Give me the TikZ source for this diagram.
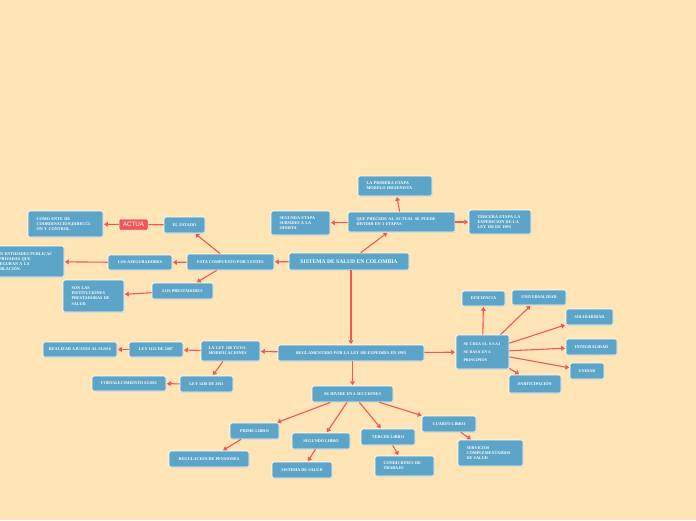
\documentclass[tikz,border=0pt]{standalone}
\usepackage{fontspec}
\setmainfont{Liberation Serif}
\newfontfamily\actuafont{Liberation Sans}
\usetikzlibrary{shadows,arrows.meta}
\definecolor{bg}{RGB}{255,228,181}
\definecolor{boxblue}{RGB}{92,164,200}
\definecolor{arr}{RGB}{240,88,88}
\tikzset{
  box/.style={draw=white, line width=0.7pt, fill=boxblue, rounded corners=1.5pt, text=white,
    font=\bfseries\fontsize{4.2}{5.2}\selectfont, align=center, inner sep=1pt,
    drop shadow={opacity=0.22, shadow xshift=0.5pt, shadow yshift=-0.9pt}},
  mbox/.style={box, align=left, inner xsep=8.5pt, inner ysep=1pt},
  con/.style={draw=arr, line width=1.1pt, -{Triangle[length=3.8pt,width=4.8pt]}, shorten >=0.6pt},
  plainline/.style={draw=arr, line width=1.1pt},
}
\begin{document}
\begin{tikzpicture}[x=1pt,y=-1pt]
\useasboundingbox (0,0) rectangle (696,520);
\fill[bg] (0,0) rectangle (696,520);

% root
\node[box, minimum width=120pt, minimum height=17pt, font=\bfseries\fontsize{5.6}{6.5}\selectfont] (root) at (349,261.5) {SISTEMA DE SALUD EN COLOMBIA};

% etapas
\node[mbox, text width=90pt, minimum height=20pt] (qp) at (401.5,222) {QUE PRECEDE AL ACTUAL SE PUEDE\\DIVIDIR EN 3 ETAPAS};
\node[mbox, text width=57pt, minimum height=20pt] (prim) at (395,186) {LA PRIMERA ETAPA\\MODELO HIGIENISTA};
\node[mbox, text width=42pt, minimum height=24pt] (seg) at (300.5,223) {SEGUNDA ETAPA\\SUBSIDIO A LA\\OFERTA};
\node[mbox, text width=45pt, minimum height=24pt] (ter) at (500,222) {TERCERA ETAPA LA\\EXPEDICION DE LA\\LEY 100 DE 1993};

% entes
\node[box, minimum width=87pt, minimum height=16pt] (esta) at (230.5,262) {ESTA COMPUESTO POR 3 ENTES};
\node[box, minimum width=41pt, minimum height=16pt] (estado) at (184.5,225) {EL ESTADO};
\node[draw=white, line width=0.5pt, fill=arr, rounded corners=1pt, text=white, font=\actuafont\fontsize{6.3}{7}\selectfont, minimum width=29pt, minimum height=11pt, inner sep=0.5pt] (actua) at (133.5,224.5) {ACTUA};
\node[mbox, text width=58pt, minimum height=26pt] (como) at (65.5,224) {COMO ENTE DE\\COORDINACION,DIRECCI\\ON Y CONTROL.};
\node[box, minimum width=64pt, minimum height=15pt] (aseg) at (140,262.5) {LOS ASEGURADORES};
\node[mbox, text width=61pt, minimum height=31pt] (sonent) at (25,261.5) {SON ENTIDADES PUBLICAS\\O PRIVADAS QUE\\ASEGURAN A LA\\POBLACIÓN.};
\node[box, minimum width=61pt, minimum height=16pt] (prest) at (182.5,291) {LOS PRESTADORES};
\node[mbox, text width=44pt, minimum height=32pt] (sonlas) at (93.5,296) {SON LAS\\INSTITUCIONES\\PRESTADORAS DE\\SALUD.};

% reglamentado
\node[box, minimum width=146pt, minimum height=16pt] (regl) at (351,353) {REGLAMENTADO POR LA LEY 100 EXPEDIDA EN 1993};
\node[mbox, text width=44pt, inner xsep=7.5pt, minimum height=20pt] (laley) at (230.5,351) {LA LEY 100 TUVO\\MODIFICACIONES};
\node[box, minimum width=54pt, minimum height=15pt] (l1122) at (156,349.5) {LEY 1122 DE 2007};
\node[box, minimum width=74pt, minimum height=15pt] (realizar) at (80,349.5) {REALIZAR AJUSTES AL SGSSS};
\node[box, minimum width=53pt, minimum height=16pt] (l1438) at (206.5,384) {LEY 1438 DE 2011};
\node[box, minimum width=74pt, minimum height=15pt] (fort) at (129,383.5) {FORTALECIMIENTO SGSSS};

% secciones
\node[box, minimum width=81pt, minimum height=16pt] (divide) at (352.5,394) {SE DIVIDE EN 4 SECCIONES};
\node[box, minimum width=49pt, minimum height=16pt] (prime) at (254.5,431) {PRIME LIBRO};
\node[box, minimum width=80pt, minimum height=16pt] (regpen) at (209,459) {REGULACION DE PENSIONES};
\node[box, minimum width=58pt, minimum height=16pt] (segundo) at (321,441) {SEGUNDO LIBRO};
\node[box, minimum width=60pt, minimum height=16pt] (sissalud) at (302,470) {SISTEMA DE SALUD};
\node[box, minimum width=54pt, minimum height=16pt] (tercer) at (388,437) {TERCER LIBRO};
\node[mbox, text width=42pt, minimum height=20pt] (condic) at (404.5,466) {CONDICIONES DE\\TRABAJO};
\node[box, minimum width=54pt, minimum height=16pt] (cuarto) at (449,424) {CUARTO LIBRO};
\node[mbox, text width=48pt, minimum height=26pt] (servic) at (490.5,453) {SERVICIOS\\COMPLEMENTARIOS\\DE SALUD};

% principios
\node[mbox, text width=43pt, inner xsep=5pt, minimum height=34pt, font=\bfseries\fontsize{4}{5}\selectfont] (secrea) at (482.5,352) {\hspace*{2.5pt}SE CREA EL S.S.S.I\\[2.8pt]\hspace*{2.5pt}SE BASA EN 6\\[2.8pt]\hspace*{2.5pt}PRINCIPIOS};
\node[box, minimum width=43pt, minimum height=15pt] (efic) at (483.5,298.5) {EFICIENCIA};
\node[box, minimum width=54pt, minimum height=15pt] (univ) at (539,297.5) {UNIVERSALIDAD};
\node[box, minimum width=47pt, minimum height=16pt] (solid) at (589.5,317) {SOLIDARIDAD};
\node[box, minimum width=51pt, minimum height=16pt] (integ) at (591.5,347) {INTEGRALIDAD};
\node[box, minimum width=34pt, minimum height=16pt] (unidad) at (587,371) {UNIDAD};
\node[box, minimum width=52pt, minimum height=18pt] (partic) at (535,384) {PARTICIPACIÓN};

% connectors
\draw[con] (root) -- (qp);
\draw[con] (qp) -- (prim);
\draw[con] (qp) -- (seg);
\draw[con] (qp) -- (ter);
\draw[con] (root) -- (esta);
\draw[con] (esta) -- (estado);
\draw[plainline] (estado) -- (actua);
\draw[con] (actua) -- (como);
\draw[con] (esta) -- (aseg);
\draw[con] (aseg) -- (sonent);
\draw[con] (esta) -- (prest);
\draw[con] (prest) -- (sonlas);
\draw[con] (root.south -| regl.north) -- (regl.north);
\draw[con] (regl) -- (laley);
\draw[con] (laley) -- (l1122);
\draw[con] (l1122) -- (realizar);
\draw[con] (laley) -- (l1438);
\draw[con] (l1438) -- (fort);
\draw[con] (regl) -- (secrea);
\draw[con] (secrea) -- (efic);
\draw[con] (secrea) -- (univ);
\draw[con] (secrea) -- (solid);
\draw[con] (secrea) -- (integ);
\draw[con] (secrea) -- (unidad);
\draw[con] (secrea) -- (partic);
\draw[con] (regl.south -| divide.north) -- (divide.north);
\draw[con] (divide) -- (prime);
\draw[con] (divide) -- (segundo);
\draw[con] (divide) -- (tercer);
\draw[con] (divide) -- (cuarto);
\draw[con] (prime) -- (regpen);
\draw[con] (segundo) -- (sissalud);
\draw[con] (tercer) -- (condic);
\draw[con] (cuarto) -- (servic);
\end{tikzpicture}
\end{document}
